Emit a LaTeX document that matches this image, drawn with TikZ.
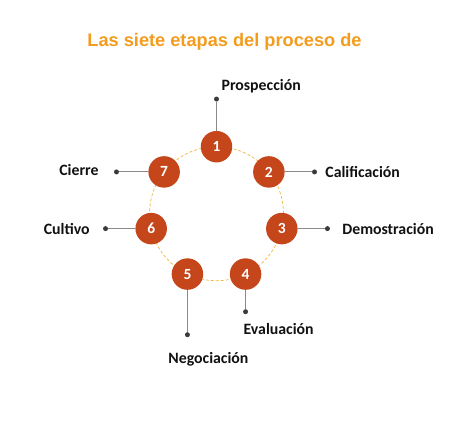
\documentclass[tikz,border=0pt]{standalone}
\usepackage{fontspec}
\setmainfont{Carlito}
\newfontfamily\titlefont{Liberation Sans}
\usepackage{tikz}
\usetikzlibrary{
  positioning,
  calc
}
\definecolor{stTitle}{HTML}{F39C1E}
\definecolor{stStep}{HTML}{C4461A}
\definecolor{stRing}{HTML}{F2B640}
\definecolor{stLine}{HTML}{8A8A8A}
\definecolor{stDot}{HTML}{3A3A3A}
\definecolor{stText}{HTML}{111111}
\tikzset{
  stepnode/.style={
    circle, fill=stStep, text=white, minimum size=31.5pt, inner sep=0pt,
    font=\bfseries\fontsize{15.5}{17}\selectfont
  },
  dotnode/.style={circle, fill=stDot, minimum size=5pt, inner sep=0pt},
  lbl/.style={font=\bfseries\fontsize{15.8}{18}\selectfont, text=stText, inner sep=0pt},
  ring/.style={stRing, densely dashed, line width=0.7pt},
  lead/.style={stLine, line width=1pt}
}
\begin{document}
\begin{tikzpicture}
  \useasboundingbox (-216.5pt,-231.3pt) rectangle (257.5pt,213.7pt);
  % title
  \node[font=\titlefont\bfseries\fontsize{18.2}{21}\selectfont, text=stTitle] (title)
    at (8pt,172pt) {Las siete etapas del proceso de};
  % dashed ring behind the steps
  \draw[ring] (0,0) circle (67pt);
  \foreach \i in {1,...,7}
    \node[stepnode] (s\i) at ({90-360/7*(\i-1)}:67pt) {\i};
  % dots
  \node[dotnode, above=29pt of s1] (d1) {};
  \node[dotnode, right=27pt of s2] (d2) {};
  \node[dotnode, right=27pt of s3] (d3) {};
  \node[dotnode, below=19pt of s4] (d4) {};
  \node[dotnode, below=42pt of s5] (d5) {};
  \node[dotnode, left=27pt of s6] (d6) {};
  \node[dotnode, left=29pt of s7] (d7) {};
  \foreach \i in {1,...,7}
    \draw[lead] (s\i) -- (d\i);
  % labels
  \node[lbl, above right=4pt and 3pt of d1] (l1) {Prospección};
  \node[lbl, right=8pt of d2] (l2) {Calificación};
  \node[lbl, right=12pt of d3] (l3) {Demostración};
  \node[lbl, below right=10pt and -4pt of d4] (l4) {Evaluación};
  \node[lbl, below=15pt of d5, xshift=21pt] (l5) {Negociación};
  \node[lbl, left=13pt of d6] (l6) {Cultivo};
  \node[lbl, left=15pt of d7, yshift=2pt] (l7) {Cierre};
\end{tikzpicture}
\end{document}
